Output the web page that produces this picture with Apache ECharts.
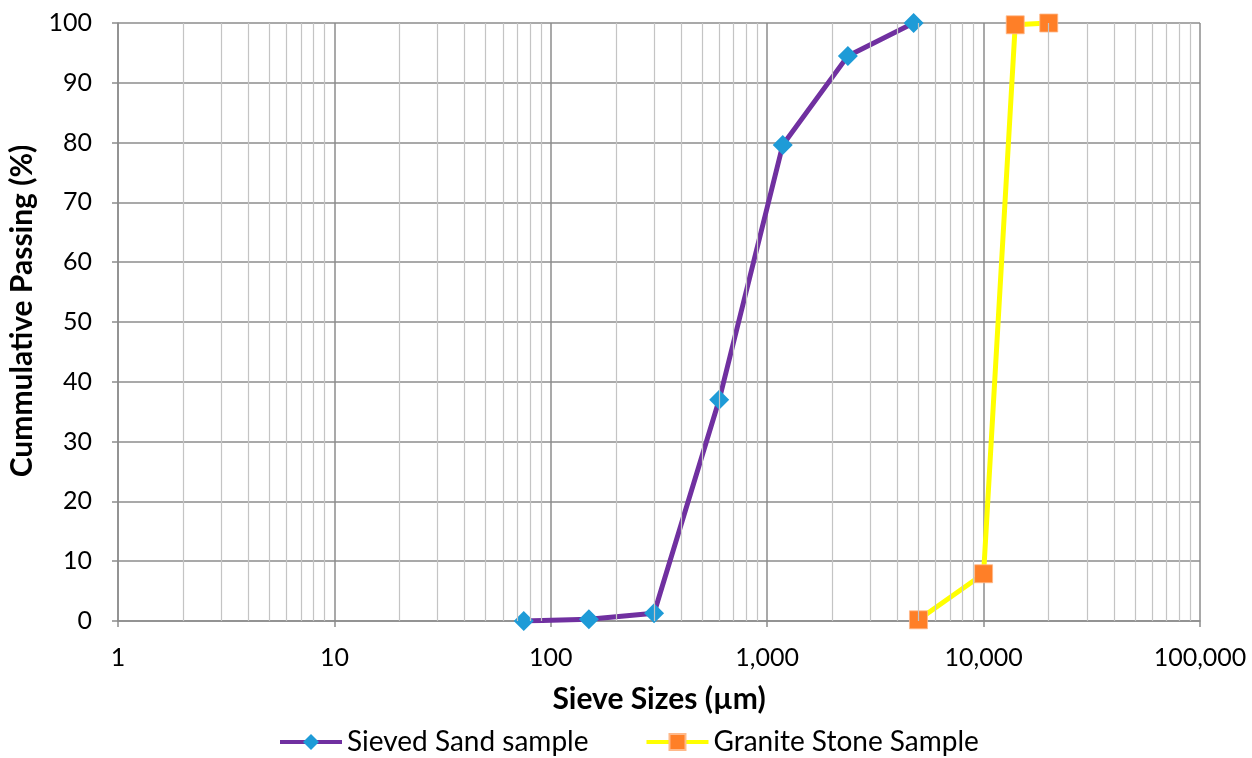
<!DOCTYPE html>
<html>
<head>
<meta charset="utf-8">
<script src="https://cdn.jsdelivr.net/npm/echarts@6/dist/echarts.min.js"></script>
<style>
  html, body { margin: 0; padding: 0; background: #fff; }
  #chart { width: 1252px; height: 758px; }
</style>
</head>
<body>
<div id="chart"></div>
<script>
// Sieve analysis: cumulative passing vs sieve size (log scale)
const sandSizes = [75, 150, 300, 600, 1180, 2360, 4750];
const sandPassing = [0, 0.3, 1.3, 37, 79.6, 94.5, 100];
const graniteSizes = [5000, 10000, 14000, 20000];
const granitePassing = [0.2, 7.9, 99.7, 100];
const yTicks = [0, 10, 20, 30, 40, 50, 60, 70, 80, 90, 100];
const decades = [1, 10, 100, 1000, 10000, 100000];

// minor grid positions 2..9 within each decade
const minorGrid = [];
for (let d = 0; d < decades.length - 1; d++) {
  for (let m = 2; m <= 9; m++) minorGrid.push(decades[d] * m);
}

const FONT = 'Lato, "Open Sans", sans-serif';

const chart = echarts.init(document.getElementById('chart'));
chart.setOption({
  animation: false,
  backgroundColor: '#ffffff',
  textStyle: { fontFamily: FONT },
  grid: { left: 118, right: 52, top: 23, bottom: 137, containLabel: false, outerBoundsMode: 'none' },
  legend: {
    top: 725,
    left: 278,
    itemWidth: 62,
    itemHeight: 20,
    itemGap: 56,
    padding: 0,
    lineStyle: { width: 4 },
    textStyle: { fontFamily: FONT, fontSize: 28, color: '#000', lineHeight: 34 },
    data: ['Sieved Sand sample', 'Granite Stone Sample']
  },
  xAxis: {
    type: 'log',
    logBase: 10,
    min: decades[0],
    max: decades[decades.length - 1],
    name: 'Sieve Sizes (µm)',
    nameLocation: 'middle',
    nameGap: 63,
    nameTextStyle: { fontFamily: FONT, fontSize: 30, fontWeight: 'bold', color: '#000' },
    axisLine: { show: true, lineStyle: { color: '#8c8c8c', width: 1.5 } },
    axisTick: { show: true, length: 6, lineStyle: { color: '#8c8c8c', width: 1.5 } },
    axisLabel: {
      margin: 24,
      fontSize: 25,
      color: '#000',
      formatter: v => Math.round(v).toLocaleString('en-US')
    },
    splitLine: { show: true, lineStyle: { color: '#8c8c8c', width: 1.5 } },
    minorTick: { show: false },
    minorSplitLine: { show: false }
  },
  yAxis: {
    type: 'value',
    min: yTicks[0],
    max: yTicks[yTicks.length - 1],
    interval: 10,
    name: 'Cummulative Passing (%)',
    nameLocation: 'middle',
    nameGap: 73,
    nameTextStyle: { fontFamily: FONT, fontSize: 30, fontWeight: 'bold', color: '#000', padding: [0, 0, 0, 22] },
    axisLine: { show: true, lineStyle: { color: '#8c8c8c', width: 1.5 } },
    axisTick: { show: true, length: 6, lineStyle: { color: '#8c8c8c', width: 1.5 } },
    axisLabel: { margin: 26, fontSize: 25, color: '#000' },
    splitLine: { show: true, lineStyle: { color: '#8c8c8c', width: 1.5 } }
  },
  series: [
    {
      // minor vertical grid lines at 2..9 of each decade
      name: 'minor-grid',
      type: 'line',
      data: [],
      silent: true,
      z: 1,
      markLine: {
        silent: true,
        symbol: ['none', 'none'],
        label: { show: false },
        lineStyle: { color: '#c4c4c4', width: 1.2, type: 'solid' },
        emphasis: { disabled: true },
        data: minorGrid.map(v => ({ xAxis: v }))
      }
    },
    {
      name: 'Sieved Sand sample',
      type: 'line',
      z: 3,
      data: sandSizes.map((s, i) => [s, sandPassing[i]]),
      symbol: 'diamond',
      symbolSize: 20,
      itemStyle: { color: '#1E9BD7' },
      lineStyle: { color: '#7030A0', width: 5 }
    },
    {
      name: 'Granite Stone Sample',
      type: 'line',
      z: 3,
      data: graniteSizes.map((s, i) => [s, granitePassing[i]]),
      symbol: 'rect',
      symbolSize: 18,
      itemStyle: { color: '#FF7F27', borderColor: '#FFB98A', borderWidth: 0.8 },
      lineStyle: { color: '#FFFF00', width: 5 }
    }
  ]
});
</script>
</body>
</html>
